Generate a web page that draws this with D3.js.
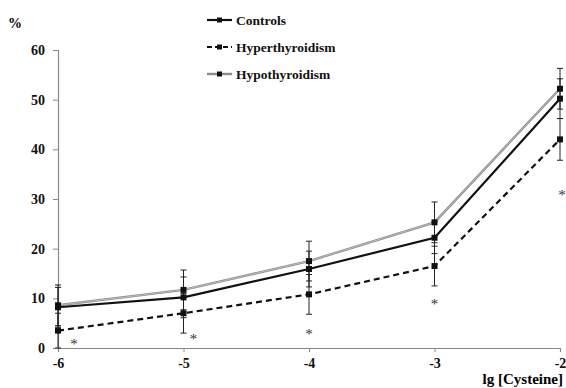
<!DOCTYPE html>
<html>
<head>
<meta charset="utf-8">
<script src="https://cdn.jsdelivr.net/npm/d3@7"></script>
<style>
  body { margin: 0; background: #fff; }
  svg text { font-family: "Liberation Serif", "DejaVu Serif", serif; font-weight: bold; }
</style>
</head>
<body>
<svg width="566" height="388" font-family="Liberation Serif, DejaVu Serif, serif"></svg>
<script>
// dati
var xValues = [-6, -5, -4, -3, -2];
var yTicks = [0, 10, 20, 30, 40, 50, 60];
var controls = [8.2, 10.2, 15.9, 22.2, 50.2];
var controlsErr = [4.0, 4.1, 3.6, 3.2, 4.0];
var hyper = [3.5, 7.0, 10.8, 16.5, 42.0];
var hyperErr = [3.5, 4.0, 4.0, 4.0, 4.2];
var hypo = [8.6, 11.7, 17.5, 25.3, 52.2];
var hypoErr = [4.1, 4.0, 4.0, 4.1, 4.1];
var starValues = [1.5, 2.5, 3.5, 9.5, 31.5];
var seriesNames = ["Controls", "Hyperthyroidism", "Hypothyroidism"];

var serif = "'Liberation Serif', 'DejaVu Serif', serif";
var svg = d3.select("svg");

var x = d3.scaleLinear().domain([-6, -2]).range([58, 560]);
var y = d3.scaleLinear().domain([0, 60]).range([348, 50]);

// assi
var yAxis = svg.append("g")
    .attr("transform", "translate(58,0)")
    .call(d3.axisLeft(y).tickValues(yTicks).tickSize(5).tickPadding(8));
var xAxis = svg.append("g")
    .attr("transform", "translate(0,348)")
    .call(d3.axisBottom(x).tickValues(xValues).tickSize(4).tickPadding(6).tickFormat(d3.format("d")));

[yAxis, xAxis].forEach(function (a) {
    a.attr("font-family", null).attr("font-size", null);
    a.select(".domain").attr("stroke", "#888").attr("stroke-width", 1.2);
    a.selectAll(".tick line").attr("stroke", "#888");
    a.selectAll(".tick text").attr("fill", "#111")
        .style("font-family", serif)
        .style("font-weight", "bold").style("font-size", "14px");
});
xAxis.selectAll(".tick text").text(function (d) { return d.toString().replace("\u2212", "-"); });

svg.append("text").attr("x", 8).attr("y", 28).style("font-family", serif).style("font-size", "14px").text("%");
svg.append("text").attr("x", 563).attr("y", 384).attr("text-anchor", "end")
    .style("font-family", serif).style("font-size", "15px").text("lg [Cysteine]");

var series = [
    { name: seriesNames[0], vals: controls, err: controlsErr, color: "#111", dash: null, width: 2.2 },
    { name: seriesNames[1], vals: hyper, err: hyperErr, color: "#111", dash: "6,4", width: 2.2 },
    { name: seriesNames[2], vals: hypo, err: hypoErr, color: "#8c8c8c", dash: null, width: 2.4 }
];

// barre di errore
series.forEach(function (s) {
    var g = svg.append("g");
    s.vals.forEach(function (v, i) {
        var cx = x(xValues[i]);
        var lo = Math.max(0, v - s.err[i]), hi = v + s.err[i];
        g.append("line").attr("x1", cx).attr("x2", cx).attr("y1", y(lo)).attr("y2", y(hi))
            .attr("stroke", "#222").attr("stroke-width", 1);
        [lo, hi].forEach(function (e) {
            g.append("line").attr("x1", cx - 3).attr("x2", cx + 3).attr("y1", y(e)).attr("y2", y(e))
                .attr("stroke", "#222").attr("stroke-width", 1);
        });
    });
});

var line = d3.line().x(function (d, i) { return x(xValues[i]); }).y(function (d) { return y(d); });

// linee (ipotiroidismo per primo, sotto)
[series[2], series[0], series[1]].forEach(function (s) {
    svg.append("path")
        .attr("d", line(s.vals))
        .attr("fill", "none")
        .attr("stroke", s.color)
        .attr("stroke-width", s.width)
        .attr("stroke-dasharray", s.dash);
    if (s.name == "Hypothyroidism") {
        svg.append("path").attr("d", line(s.vals)).attr("fill", "none")
            .attr("stroke", "#c8c8c8").attr("stroke-width", 0.8);
    }
    svg.selectAll(null).data(s.vals).enter().append("rect")
        .attr("x", function (d, i) { return x(xValues[i]) - 3; })
        .attr("y", function (d) { return y(d) - 3; })
        .attr("width", 6).attr("height", 6)
        .attr("fill", "#111");
});

// asterischi
var starDx = [16, 10, 0, 0, 2];
starValues.forEach(function (v, i) {
    svg.append("text")
        .attr("x", x(xValues[i]) + starDx[i])
        .attr("y", y(v) + 8)
        .attr("text-anchor", "middle")
        .style("font-family", serif)
        .style("font-size", "15px").style("font-weight", "normal")
        .attr("fill", "#333")
        .text("*");
});

// legenda
series.forEach(function (s, i) {
    var ly = 20 + i * 27;
    svg.append("line").attr("x1", 207).attr("x2", 232).attr("y1", ly).attr("y2", ly)
        .attr("stroke", s.color).attr("stroke-width", s.width)
        .attr("stroke-dasharray", s.dash ? "5,3" : null);
    svg.append("rect").attr("x", 217).attr("y", ly - 2.5).attr("width", 5).attr("height", 5).attr("fill", "#111");
    svg.append("text").attr("x", 236).attr("y", ly + 5).style("font-family", serif)
        .style("font-size", "13.5px").attr("fill", "#111").text(s.name);
});
</script>
</body>
</html>
